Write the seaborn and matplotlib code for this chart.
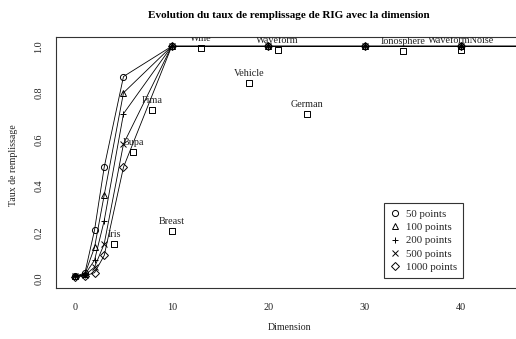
import matplotlib
matplotlib.use("Agg")
import matplotlib.pyplot as plt
from matplotlib.lines import Line2D
import seaborn as sns
import pandas as pd

# Dimension values shared by the simulated series
dims = [0, 1, 2, 3, 5, 10, 20, 30, 40, 50]

# Filling rate for each sample size
rate_50 = [0.01, 0.025, 0.21, 0.48, 0.87, 1.0, 1.0, 1.0, 1.0, 1.0]
rate_100 = [0.01, 0.02, 0.135, 0.36, 0.80, 1.0, 1.0, 1.0, 1.0, 1.0]
rate_200 = [0.01, 0.018, 0.08, 0.25, 0.71, 1.0, 1.0, 1.0, 1.0, 1.0]
rate_500 = [0.01, 0.015, 0.05, 0.15, 0.58, 1.0, 1.0, 1.0, 1.0, 1.0]
rate_1000 = [0.008, 0.012, 0.026, 0.10, 0.48, 1.0, 1.0, 1.0, 1.0, 1.0]

series_labels = ["50 points", "100 points", "200 points", "500 points", "1000 points"]
series_markers = ["o", "^", "+", "x", "D"]

# Real datasets
dataset_names = ["Iris", "Breast", "Bupa", "Pima", "Wine", "Vehicle",
                 "German", "Waveform", "Ionosphere", "WaveformNoise"]
dataset_dims = [4, 10, 6, 8, 13, 18, 24, 21, 34, 40]
dataset_rates = [0.149, 0.205, 0.546, 0.725, 0.992, 0.843, 0.709, 0.983, 0.978, 0.984]

x_ticks = [0, 10, 20, 30, 40]
y_ticks = [0.0, 0.2, 0.4, 0.6, 0.8, 1.0]

sns.set_theme(style="white")
plt.rcParams["font.family"] = ["Liberation Serif", "DejaVu Serif"]

W, H = 516, 339
fig = plt.figure(figsize=(W / 100, H / 100), dpi=100)
left_px, right_px, top_px, bottom_px = 56.0, 576.7, 37.0, 288.0
ax = fig.add_axes([left_px / W, (H - bottom_px) / H,
                   (right_px - left_px) / W, (bottom_px - top_px) / H])

all_series = [rate_50, rate_100, rate_200, rate_500, rate_1000]
frames = []
for lab, vals in zip(series_labels, all_series):
    frames.append(pd.DataFrame({"dim": dims, "rate": vals, "serie": lab}))
df = pd.concat(frames, ignore_index=True)

for lab, mk in zip(series_labels, series_markers):
    sub = df[df["serie"] == lab]
    sns.lineplot(data=sub, x="dim", y="rate", ax=ax, color="black",
                 linewidth=0.6, marker=mk, markersize=4.4,
                 markerfacecolor="none", markeredgecolor="black",
                 markeredgewidth=0.7, legend=False, estimator=None,
                 sort=False)

ds = pd.DataFrame({"name": dataset_names, "dim": dataset_dims, "rate": dataset_rates})
sns.scatterplot(data=ds, x="dim", y="rate", ax=ax, marker="s", s=18,
                facecolor="none", edgecolor="black", linewidth=0.7, legend=False)
for _, row in ds.iterrows():
    ax.annotate(row["name"], (row["dim"], row["rate"]), xytext=(0, 9.5),
                textcoords="offset pixels", ha="center", va="center",
                fontsize=7.3, color="#222222", clip_on=True)

ax.set_xlim(-2, 52)
ax.set_ylim(-0.04, 1.04)
ax.set_xticks(x_ticks)
ax.set_xticklabels([str(v) for v in x_ticks])
ax.set_yticks(y_ticks)
ax.set_yticklabels([f"{v:.1f}" for v in y_ticks], rotation=90, va="center")
ax.tick_params(axis="both", direction="out", length=5, width=0.7,
               color="#333333", labelsize=7.3, labelcolor="#222222")
ax.tick_params(axis="x", pad=6)
ax.tick_params(axis="y", pad=4)
for sp in ax.spines.values():
    sp.set_color("#333333")
    sp.set_linewidth(0.8)

ax.set_xlabel("")
ax.set_ylabel("")
fig.text(290 / W, 1 - 327 / H, "Dimension", ha="center", va="center",
         fontsize=7.1, color="#222222")
fig.text(14 / W, 1 - 165 / H, "Taux de remplissage", ha="center", va="center",
         rotation=90, fontsize=7.1, color="#222222")
fig.text(289 / W, 1 - 15 / H, "Evolution du taux de remplissage de RIG avec la dimension",
         ha="center", va="center", fontsize=8.0, fontweight="bold", color="black")

handles = [Line2D([], [], linestyle="none", marker=m, markersize=4.4,
                  markerfacecolor="none", markeredgecolor="black",
                  markeredgewidth=0.7, color="black")
           for m in series_markers]
leg = ax.legend(handles, series_labels, loc="upper left",
                bbox_to_anchor=(384 / W, 1 - 203 / H), bbox_transform=fig.transFigure,
                borderaxespad=0, fontsize=7.8, frameon=True, fancybox=False,
                framealpha=1, edgecolor="#333333", handlelength=1.0,
                handletextpad=0.5, labelspacing=0.35, borderpad=0.55)
leg.get_frame().set_linewidth(0.8)

fig.savefig("out.png", dpi=100)
